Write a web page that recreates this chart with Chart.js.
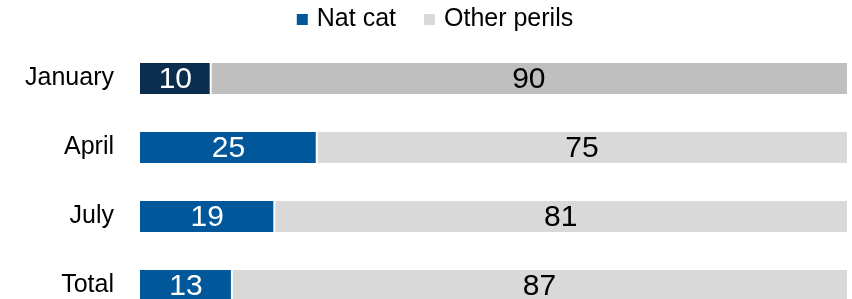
<!DOCTYPE html>
<html lang="en">
<head>
  <meta charset="UTF-8" />
  <title>Nat cat share</title>
  <script src="https://cdn.jsdelivr.net/npm/chart.js"></script>
  <style>
    html, body {
      margin: 0;
      padding: 0;
      background: #fff;
      overflow: hidden;
    }
    canvas { display: block; }
  </style>
</head>
<body>
  <canvas id="chart" width="852" height="320"></canvas>

  <script>
    const categories = ["January", "April", "July", "Total"];
    const natCat = [10, 25, 19, 13];
    const otherPerils = [90, 75, 81, 87];

    const natCatColors = ["#0b2d4e", "#00589a", "#00589a", "#00589a"];
    const otherColors = ["#bfbfbf", "#d9d9d9", "#d9d9d9", "#d9d9d9"];

    const FONT = '"Liberation Sans", Arial, sans-serif';

    // legend drawn by hand so the spacing can match
    const topLegend = {
      id: "topLegend",
      afterDraw(chart) {
        const ctx = chart.ctx;
        const items = chart.data.datasets;
        const box = 11, textGap = 9, itemGap = 28;
        ctx.save();
        ctx.font = "25px " + FONT;
        ctx.textBaseline = "middle";
        const widths = items.map(d => box + textGap + ctx.measureText(d.label).width);
        const total = widths.reduce((a, b) => a + b, 0) + itemGap * (items.length - 1);
        let x = 435 - total / 2;
        const y = 19.5;
        items.forEach((d, i) => {
          ctx.fillStyle = d.legendColor;
          ctx.fillRect(x, y - box / 2, box, box);
          ctx.fillStyle = "#000";
          ctx.fillText(d.label, x + box + textGap, y);
          x += widths[i] + itemGap;
        });
        ctx.restore();
      }
    };

    // value labels inside the segments
    const barLabels = {
      id: "barLabels",
      afterDatasetsDraw(chart) {
        const ctx = chart.ctx;
        ctx.save();
        ctx.font = "30px " + FONT;
        ctx.textAlign = "center";
        ctx.textBaseline = "middle";
        chart.data.datasets.forEach((ds, di) => {
          const meta = chart.getDatasetMeta(di);
          meta.data.forEach((bar, i) => {
            const cx = (bar.x + bar.base) / 2;
            ctx.fillStyle = ds.labelColor;
            ctx.fillText(String(ds.data[i]), cx, bar.y + 1);
          });
        });
        ctx.restore();
      }
    };

    new Chart(document.getElementById("chart"), {
      type: "bar",
      data: {
        labels: categories,
        datasets: [
          {
            label: "Nat cat",
            data: natCat,
            backgroundColor: natCatColors,
            legendColor: "#00589a",
            labelColor: "#fff",
            borderColor: "#fff",
            borderWidth: { left: 0, right: 1, top: 0, bottom: 0 },
            borderSkipped: false
          },
          {
            label: "Other perils",
            data: otherPerils,
            backgroundColor: otherColors,
            legendColor: "#d9d9d9",
            labelColor: "#000",
            borderColor: "#fff",
            borderWidth: { left: 1, right: 0, top: 0, bottom: 0 },
            borderSkipped: false
          }
        ]
      },
      options: {
        indexAxis: "y",
        responsive: false,
        animation: false,
        layout: { padding: { top: 44, right: 5, left: 0, bottom: 0 } },
        datasets: {
          bar: { categoryPercentage: 1, barPercentage: 0.45 }
        },
        plugins: {
          legend: { display: false },
          tooltip: { enabled: false }
        },
        scales: {
          x: {
            stacked: true,
            display: false,
            min: 0,
            max: 100
          },
          y: {
            stacked: true,
            grid: { display: false, drawTicks: false },
            border: { display: false },
            ticks: {
              padding: 26,
              color: "#000",
              font: { family: FONT, size: 25 }
            },
            afterFit(scale) {
              scale.width = 140;
              scale.paddingTop = 0;
              scale.paddingBottom = 0;
            }
          }
        }
      },
      plugins: [topLegend, barLabels]
    });
  </script>
</body>
</html>
